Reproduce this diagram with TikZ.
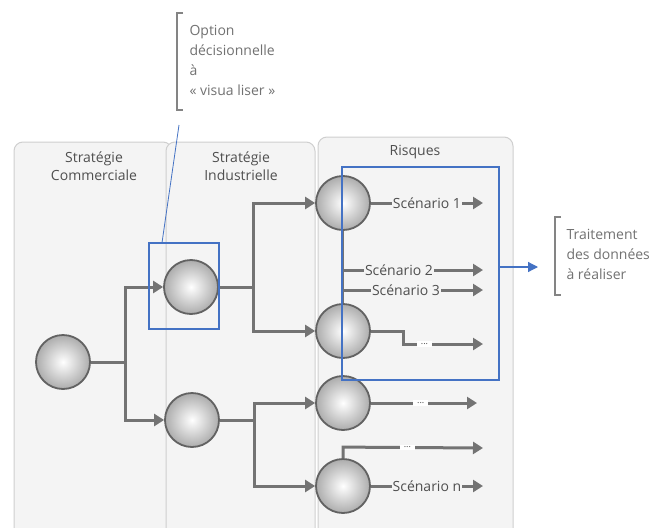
\documentclass[tikz,border=0pt]{standalone}
\usepackage{fontspec}
\setmainfont{Open Sans}
\usetikzlibrary{arrows.meta}
\definecolor{linegray}{HTML}{737373}
\definecolor{panelfill}{HTML}{F4F4F4}
\definecolor{paneledge}{HTML}{CFCFCF}
\definecolor{textgray}{HTML}{4F4F4F}
\definecolor{boxblue}{HTML}{4472C4}
\begin{document}
\begin{tikzpicture}[x=1pt, y=-1pt,
    panel/.style={fill=panelfill, draw=paneledge, line width=1pt, rounded corners=9pt},
    ball/.style={circle, minimum size=54pt, inner sep=0pt, draw=linegray!85!black, line width=1.8pt,
      inner color=white, outer color=gray!65},
    link/.style={draw=linegray, line width=3pt, -{Triangle[width=12pt,length=10pt]}},
    plain/.style={draw=linegray, line width=2.4pt},
    lbl/.style={fill=panelfill, inner sep=1pt, text=textgray, font=\fontsize{14}{16}\selectfont},
    dots/.style={fill=white, inner xsep=4pt, inner ysep=2pt, text=textgray, font=\fontsize{9}{10}\selectfont},
    title/.style={align=center, text=textgray, font=\fontsize{14}{18}\selectfont},
    note/.style={align=left, anchor=north west, text=textgray!80, font=\fontsize{14}{20}\selectfont},
    bluebox/.style={draw=boxblue, line width=1.8pt, inner sep=0pt}]
  \useasboundingbox (0,0) rectangle (666,527);
  \clip (0,0) rectangle (666,527);
  \fill[white] (0,0) rectangle (666,527);

  \draw[panel] (14,142) rectangle (172,545);
  \draw[panel] (166,142) rectangle (315,545);
  \draw[panel] (318,137) rectangle (513,545);

  \node[title] (tcom) at (94,166) {Stratégie\\Commerciale};
  \node[title] (tind) at (241,166) {Stratégie\\Industrielle};
  \node[title] (trisk) at (415,152) {Risques};

  \node[ball] (c0) at (63,362) {};
  \node[ball] (c1) at (191,287) {};
  \node[ball] (c2) at (192,420) {};
  \node[ball] (r1) at (343,203) {};
  \node[ball] (r2) at (343,331) {};
  \node[ball] (r3) at (343,403) {};
  \node[ball] (r4) at (343,486) {};
  \coordinate (endx) at (483,0);

  \draw[link] (c0.east) -- ++(35,0) |- (c1.west);
  \draw[link] (c0.east) -- ++(35,0) |- (c2.west);
  \draw[link] (c1.east) -- ++(35,0) |- (r1.west);
  \draw[link] (c1.east) -- ++(35,0) |- (r2.west);
  \draw[link] (c2.east) -- ++(35,0) |- (r3.west);
  \draw[link] (c2.east) -- ++(35,0) |- (r4.west);

  \draw[plain] (r1.south) -- (r2.north);
  \draw[link] (r1.east) -- node[lbl] {Scénario 1} (r1.east -| endx);
  \draw[link] (r1.south |- 0,270) -- node[lbl, pos=0.4] {Scénario 2} (endx |- 0,270);
  \draw[link] (r1.south |- 0,290) -- node[lbl, pos=0.45] {Scénario 3} (endx |- 0,290);
  \draw[link] (r2.east) -- ++(33,0) -- ++(0,13) -- node[dots, pos=0.26] {...} (endx |- 0,344);
  \draw[link] (r3.east) -- node[dots, pos=0.47] {...} ([xshift=-6pt]r3.east -| endx);
  \draw[link] (r4.north) -- ++(0,-11) -- node[dots, pos=0.46] {...} (endx |- 0,448);
  \draw[link] (r4.east) -- node[lbl] {Scénario n} (r4.east -| endx);

  \node[bluebox, minimum width=70pt, minimum height=86pt] (optbox) at (184,286) {};
  \node[bluebox, minimum width=157pt, minimum height=213pt] (databox) at (420.5,273.5) {};
  \coordinate (optnote) at (179,125);
  \draw[boxblue, line width=0.8pt] (optnote) -- ([xshift=14pt]optbox.north west);
  \coordinate (datanote) at (538,267);
  \draw[boxblue, line width=1.2pt, -{Triangle[width=10pt,length=10pt]}] (databox.east |- datanote) -- (datanote);

  \draw[textgray!70, line width=1.5pt] (183,13) -- (177,13) -- (177,110) -- (183,110);
  \node[note] (optlbl) at (186,22) {Option\\décisionnelle\\à\\« visua liser »};
  \draw[textgray!70, line width=1.5pt] (561,217) -- (555,217) -- (555,295) -- (561,295);
  \node[note] (datalbl) at (563,226) {Traitement\\des données\\à réaliser};
\end{tikzpicture}
\end{document}
